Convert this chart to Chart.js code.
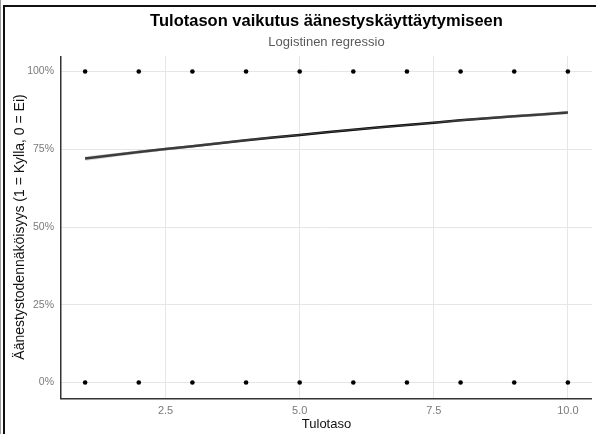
<!DOCTYPE html>
<html>
<head>
<meta charset="utf-8">
<script src="https://cdn.jsdelivr.net/npm/chart.js@4.4.1/dist/chart.umd.min.js"></script>
<style>
  html, body { margin: 0; padding: 0; background: #fff; }
  #wrap { width: 596px; height: 434px; position: relative; }
  canvas { display: block; }
</style>
</head>
<body>
<div id="wrap"><canvas id="c" width="596" height="434"></canvas></div>
<script>
// ---- data ----
const titleText = "Tulotason vaikutus äänestyskäyttäytymiseen";
const subtitleText = "Logistinen regressio";
const xTitle = "Tulotaso";
const yTitle = "Äänestystodennäköisyys (1 = Kylla, 0 = Ei)";
const incomeLevels = [1, 2, 3, 4, 5, 6, 7, 8, 9, 10];
const votedYes = [1, 1, 1, 1, 1, 1, 1, 1, 1, 1];
const votedNo = [0, 0, 0, 0, 0, 0, 0, 0, 0, 0];
const fittedProb = [0.720, 0.741, 0.760, 0.779, 0.796, 0.813, 0.828, 0.843, 0.856, 0.868];
const ciLower = [0.713, 0.736, 0.756, 0.776, 0.794, 0.811, 0.826, 0.840, 0.852, 0.863];
const ciUpper = [0.727, 0.746, 0.764, 0.782, 0.798, 0.815, 0.830, 0.846, 0.860, 0.873];
const xTicks = [2.5, 5.0, 7.5, 10.0];
const yTicks = [0, 0.25, 0.5, 0.75, 1];

const pts = (ys) => incomeLevels.map((x, i) => ({ x: x, y: ys[i] }));

const framePlugin = {
  id: 'frameAndTitles',
  afterDraw(chart) {
    const ctx = chart.ctx;
    const ca = chart.chartArea;
    ctx.save();
    const cx = (ca.left + ca.right) / 2;
    ctx.textAlign = 'center';
    ctx.textBaseline = 'middle';
    ctx.fillStyle = '#000';
    ctx.font = 'bold 16.5px "Liberation Sans", Arial, sans-serif';
    ctx.fillText(titleText, cx, 21);
    ctx.fillStyle = '#5a5a5a';
    ctx.font = '13px "Liberation Sans", Arial, sans-serif';
    ctx.fillText(subtitleText, cx, 42);
    ctx.fillStyle = '#111';
    ctx.fillRect(3, 5, 593, 2);
    ctx.fillRect(3, 5, 2, 429);
    ctx.fillStyle = '#9a9a9a';
    ctx.fillRect(0, 0, 1, 434);
    ctx.fillStyle = '#333';
    ctx.fillRect(Math.round(ca.left) - 1, Math.round(ca.top), 1.5, ca.bottom - ca.top + 1);
    ctx.fillRect(Math.round(ca.left) - 1, Math.round(ca.bottom), ca.right - ca.left + 1, 1.5);
    ctx.restore();
  }
};

new Chart(document.getElementById('c'), {
  type: 'scatter',
  data: {
    datasets: [
      {
        label: 'ciLower',
        type: 'line',
        data: pts(ciLower),
        borderWidth: 0,
        pointRadius: 0,
        fill: false,
        tension: 0.3
      },
      {
        label: 'ciUpper',
        type: 'line',
        data: pts(ciUpper),
        borderWidth: 0,
        pointRadius: 0,
        backgroundColor: 'rgba(150,150,150,0.4)',
        fill: '-1',
        tension: 0.3
      },
      {
        label: 'fit',
        type: 'line',
        data: pts(fittedProb),
        borderColor: '#000',
        borderWidth: 2.5,
        pointRadius: 0,
        fill: false,
        tension: 0.3
      },
      {
        label: 'yes',
        data: pts(votedYes),
        backgroundColor: '#000',
        borderColor: '#000',
        pointRadius: 2.3,
        borderWidth: 0
      },
      {
        label: 'no',
        data: pts(votedNo),
        backgroundColor: '#000',
        borderColor: '#000',
        pointRadius: 2.3,
        borderWidth: 0
      }
    ]
  },
  options: {
    responsive: false,
    animation: false,
    devicePixelRatio: 1,
    layout: { padding: { left: 4, top: 56, right: 0, bottom: 0 } },
    plugins: {
      legend: { display: false },
      tooltip: { enabled: false },
      title: { display: false }
    },
    scales: {
      x: {
        type: 'linear',
        min: 0.55,
        max: 10.45,
        afterBuildTicks: (s) => { s.ticks = xTicks.map(v => ({ value: v })); },
        afterFit: (s) => { s.height = 36; },
        border: { display: false },
        grid: { color: '#e6e6e6', lineWidth: 1, drawTicks: false },
        ticks: {
          padding: 6,
          color: '#7a7a7a',
          font: { family: '"Liberation Sans", Arial, sans-serif', size: 11 },
          maxRotation: 0,
          callback: (v) => Number(v).toFixed(1)
        },
        title: {
          display: true,
          text: xTitle,
          color: '#111',
          font: { family: '"Liberation Sans", Arial, sans-serif', size: 13 },
          padding: { top: 0, bottom: 2 }
        }
      },
      y: {
        type: 'linear',
        min: -0.05,
        max: 1.05,
        afterBuildTicks: (s) => { s.ticks = yTicks.map(v => ({ value: v })); },
        afterFit: (s) => { s.width = 57; },
        border: { display: false },
        grid: { color: '#e6e6e6', lineWidth: 1, drawTicks: false },
        ticks: {
          padding: 7,
          color: '#7a7a7a',
          font: { family: '"Liberation Sans", Arial, sans-serif', size: 10.5 },
          callback: (v) => Math.round(v * 100) + '%'
        },
        title: {
          display: true,
          text: yTitle,
          color: '#111',
          font: { family: '"Liberation Sans", Arial, sans-serif', size: 14 },
          padding: { top: 8, bottom: 0 }
        }
      }
    }
  },
  plugins: [framePlugin]
});
</script>
</body>
</html>
